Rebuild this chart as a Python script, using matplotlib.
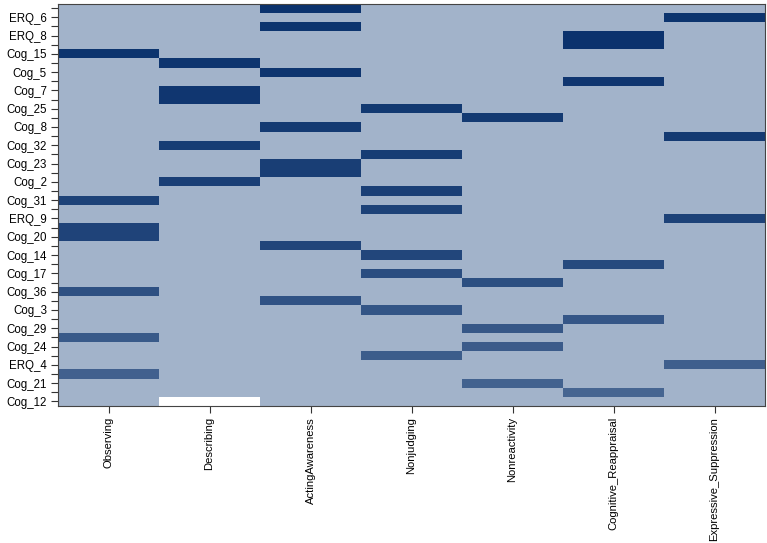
import numpy as np
import matplotlib
matplotlib.use("Agg")
import matplotlib.pyplot as plt
from matplotlib.colors import LinearSegmentedColormap

factors = ["Observing", "Describing", "ActingAwareness", "Nonjudging",
           "Nonreactivity", "Cognitive_Reappraisal", "Expressive_Suppression"]

# labels shown on every other row (rows 1, 3, 5, ... from the top)
shown_labels = ["ERQ_6", "ERQ_8", "Cog_15", "Cog_5", "Cog_7", "Cog_25", "Cog_8",
                "Cog_32", "Cog_23", "Cog_2", "Cog_31", "ERQ_9", "Cog_20", "Cog_14",
                "Cog_17", "Cog_36", "Cog_3", "Cog_29", "Cog_24", "ERQ_4", "Cog_21",
                "Cog_12"]

# factor each of the 44 rows loads on (top to bottom)
row_factor = ["ActingAwareness", "Expressive_Suppression", "ActingAwareness",
              "Cognitive_Reappraisal", "Cognitive_Reappraisal", "Observing",
              "Describing", "ActingAwareness", "Cognitive_Reappraisal",
              "Describing", "Describing", "Nonjudging", "Nonreactivity",
              "ActingAwareness", "Expressive_Suppression", "Describing",
              "Nonjudging", "ActingAwareness", "ActingAwareness", "Describing",
              "Nonjudging", "Observing", "Nonjudging", "Expressive_Suppression",
              "Observing", "Observing", "ActingAwareness", "Nonjudging",
              "Cognitive_Reappraisal", "Nonjudging", "Nonreactivity", "Observing",
              "ActingAwareness", "Nonjudging", "Cognitive_Reappraisal",
              "Nonreactivity", "Observing", "Nonreactivity", "Nonjudging",
              "Expressive_Suppression", "Observing", "Nonreactivity",
              "Cognitive_Reappraisal", "Describing"]

row_value = [0.98, 0.97, 0.97, 0.98, 0.98, 0.97, 0.96, 0.96, 0.95, 0.95, 0.95,
             0.93, 0.92, 0.92, 0.92, 0.90, 0.90, 0.89, 0.89, 0.88, 0.88, 0.86,
             0.86, 0.86, 0.85, 0.85, 0.84, 0.83, 0.80, 0.78, 0.76, 0.75, 0.74,
             0.72, 0.71, 0.70, 0.68, 0.67, 0.66, 0.64, 0.63, 0.62, 0.60, -0.40]

n_rows = len(row_factor)
mat = np.zeros((n_rows, len(factors)))
for i, (f, v) in enumerate(zip(row_factor, row_value)):
    mat[i, factors.index(f)] = v

vmin, vmax = -0.4, 1.0
bg = "#a2b3ca"
cmap = LinearSegmentedColormap.from_list(
    "load", [(0.0, "#ffffff"), ((0 - vmin) / (vmax - vmin), bg), (1.0, "#08306b")])

fig = plt.figure(figsize=(7.67, 5.43), dpi=100)
ax = fig.add_axes([58 / 767, 1 - 406 / 543, (765 - 58) / 767, (406 - 3.5) / 543])
ax.pcolormesh(np.arange(len(factors) + 1), np.arange(n_rows + 1), mat,
              cmap=cmap, vmin=vmin, vmax=vmax, shading="flat")
ax.set_xlim(0, len(factors))
ax.set_ylim(n_rows, 0)

font = "Liberation Sans"
ax.set_xticks(np.arange(len(factors)) + 0.5)
ax.set_xticklabels(factors, rotation=90, fontsize=8.1, family=font)

ticks = np.arange(n_rows) + 0.5
labels = [""] * n_rows
for k, lab in enumerate(shown_labels):
    labels[2 * k + 1] = lab
ax.set_yticks(ticks)
ax.set_yticklabels(labels, fontsize=8.3, family=font)

ax.tick_params(axis="both", length=5, width=0.8, color="#333333", pad=3)
for s in ax.spines.values():
    s.set_color("#444444")
    s.set_linewidth(0.8)

fig.savefig("out.png", dpi=100)
